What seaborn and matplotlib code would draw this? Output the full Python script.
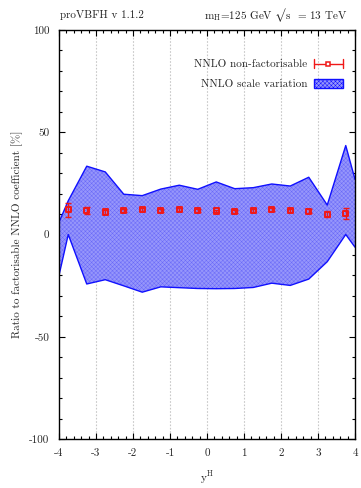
import numpy as np
import pandas as pd
import matplotlib
matplotlib.use("Agg")
import matplotlib.pyplot as plt
from matplotlib.lines import Line2D
from matplotlib.patches import Patch
from matplotlib.legend_handler import HandlerBase
from matplotlib.ticker import MultipleLocator
import seaborn as sns

# Scale-variation band (upper/lower envelope), sampled at bin centres plus the plot edges
band_x = [-4.0, -3.75, -3.25, -2.75, -2.25, -1.75, -1.25, -0.75, -0.25,
          0.25, 0.75, 1.25, 1.75, 2.25, 2.75, 3.25, 3.75, 4.0]
band_upper = [6.0, 16.5, 33.4, 30.6, 19.7, 19.0, 22.2, 24.1, 22.1,
              25.7, 22.4, 22.9, 24.7, 23.7, 28.0, 14.4, 43.5, 27.0]
band_lower = [-20.0, 0.0, -24.2, -22.1, -25.1, -28.2, -25.6, -26.0, -26.4,
              -26.5, -26.4, -25.9, -23.8, -24.9, -21.8, -13.3, 0.0, -6.2]

# Non-factorisable NNLO ratio with statistical errors
nf_x = [-3.75, -3.25, -2.75, -2.25, -1.75, -1.25, -0.75, -0.25,
        0.25, 0.75, 1.25, 1.75, 2.25, 2.75, 3.25, 3.75]
nf_y = [12.1, 11.8, 11.0, 11.8, 12.1, 11.8, 12.3, 11.6,
        11.5, 11.3, 11.8, 12.4, 11.8, 11.4, 9.9, 10.4]
nf_err = [3.4, 1.6, 1.0, 0.7, 0.7, 0.7, 0.7, 0.7,
          0.7, 0.7, 0.7, 0.7, 0.7, 1.0, 1.5, 2.7]

x_ticks = [-4, -3, -2, -1, 0, 1, 2, 3, 4]
y_ticks = [-100, -50, 0, 50, 100]

RED = "#f01818"
BLUE = "#1010ff"
BAND_FILL = "#9696fb"

sns.set_theme(style="ticks")
plt.rcParams.update({
    "font.family": ["cmr10", "DejaVu Serif"],
    "mathtext.fontset": "cm",
    "axes.unicode_minus": False,
    "axes.formatter.use_mathtext": True,
    "font.size": 8,
    "hatch.linewidth": 0.35,
    "hatch.color": "#6a6af8",
})

band = pd.DataFrame({"x": band_x, "upper": band_upper, "lower": band_lower})
nf = pd.DataFrame({"x": nf_x, "y": nf_y, "err": nf_err})

fig = plt.figure(figsize=(3.61, 4.88), dpi=100)
ax = fig.add_axes([59 / 361, 49 / 488, 296 / 361, 409 / 488])

# vertical dotted grid at the major x ticks
for xv in x_ticks[1:-1]:
    ax.axvline(xv, color="#c8c8c8", lw=0.8, ls=(0, (1.5, 1.5)), zorder=0)

ax.fill_between(band["x"], band["lower"], band["upper"], facecolor=BAND_FILL,
                edgecolor="#6a6af8", hatch="xxxxxxxx", linewidth=0, zorder=1)
sns.lineplot(data=band, x="x", y="upper", color=BLUE, lw=1, ax=ax,
             sort=False, legend=False, zorder=2)
sns.lineplot(data=band, x="x", y="lower", color=BLUE, lw=1, ax=ax,
             sort=False, legend=False, zorder=2)

ax.errorbar(nf["x"], nf["y"], yerr=nf["err"], fmt="none", ecolor=RED,
            elinewidth=1, capsize=2.5, capthick=1, zorder=3)
sns.scatterplot(data=nf, x="x", y="y", marker="s", s=14, facecolor="none",
                edgecolor=RED, linewidth=1.4, ax=ax, zorder=4)

ax.set_xlim(-4, 4)
ax.set_ylim(-100, 100)
ax.set_xticks(x_ticks)
ax.set_yticks(y_ticks)
ax.set_xticklabels([str(v) for v in x_ticks])
ax.set_yticklabels([str(v) for v in y_ticks])
ax.xaxis.set_minor_locator(MultipleLocator(0.2))
ax.yaxis.set_minor_locator(MultipleLocator(10))
ax.tick_params(which="both", direction="in", top=True, right=True,
               color="black", labelsize=8, pad=7)
ax.tick_params(which="major", length=4, width=0.8)
ax.tick_params(which="minor", length=2.2, width=0.8)
for s in ax.spines.values():
    s.set_linewidth(1.0)
    s.set_color("black")

ax.set_xlabel(r"y$^{\mathrm{H}}$", fontsize=8, labelpad=8)
ax.set_ylabel("Ratio to factorisable NNLO coefficient [%]", fontsize=8, labelpad=4)

fig.text(60 / 361, 1 - 15 / 488, "proVBFH v 1.1.2", ha="left", va="center",
         fontsize=8, color="#222222")
fig.text(347 / 361, 1 - 15 / 488,
         "m$_{\\mathrm{H}}$=125 GeV $\u221a$s  = 13 TeV",
         ha="right", va="center", fontsize=8, color="#222222")


class HorizontalErrorHandler(HandlerBase):
    """Legend key drawn as a horizontal error bar with a square marker."""

    def create_artists(self, legend, orig_handle, xdescent, ydescent,
                       width, height, fontsize, trans):
        y = height / 2 - ydescent
        x0 = -xdescent
        x1 = x0 + width
        cap = height * 0.45
        arts = [
            Line2D([x0, x1], [y, y], color=RED, lw=1),
            Line2D([x0, x0], [y - cap, y + cap], color=RED, lw=1),
            Line2D([x1, x1], [y - cap, y + cap], color=RED, lw=1),
            Line2D([(x0 + x1) / 2], [y], marker="s", ms=3.5, mfc="white",
                   mec=RED, mew=1.1, ls="none"),
        ]
        for a in arts:
            a.set_transform(trans)
        return arts


err_handle = Line2D([], [], color=RED)
band_handle = Patch(facecolor=BAND_FILL, edgecolor=BLUE, hatch="xxxxxxxx", lw=1)
leg = ax.legend([err_handle, band_handle],
                ["NNLO non-factorisable", "NNLO scale variation"],
                handler_map={err_handle: HorizontalErrorHandler()},
                loc="upper right", bbox_to_anchor=(0.973, 0.94),
                frameon=False, markerfirst=False, fontsize=8,
                handlelength=2.6, handleheight=0.9, handletextpad=0.6,
                labelspacing=0.85, borderaxespad=0.0)

fig.savefig("out.png", dpi=100)
